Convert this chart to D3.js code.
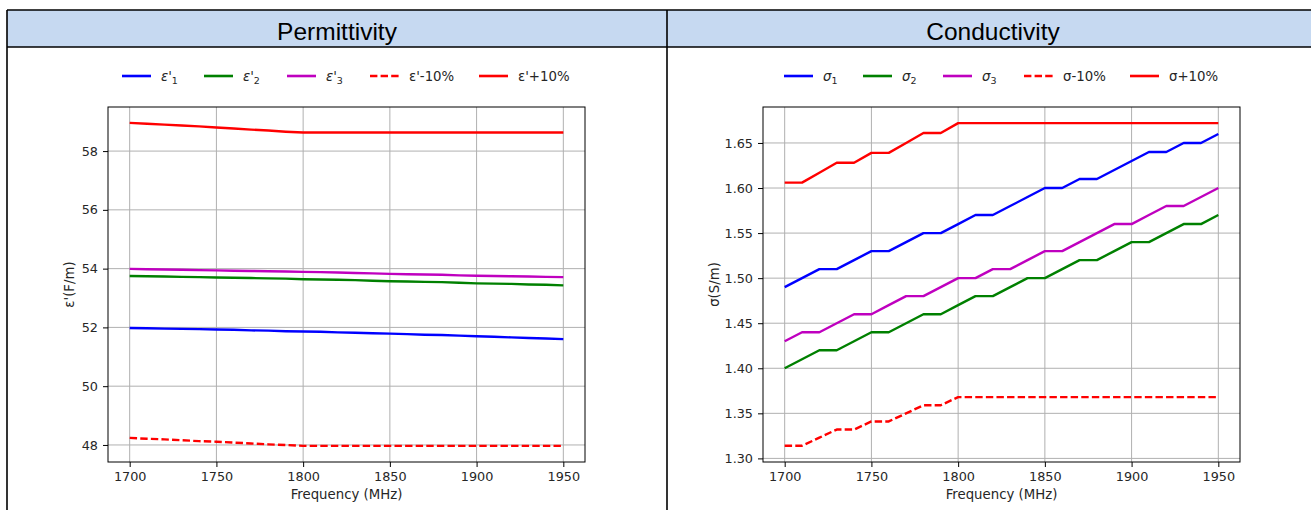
<!DOCTYPE html>
<html><head><meta charset="utf-8">
<script src="https://cdn.jsdelivr.net/npm/d3@7"></script>
<style>body{margin:0;background:#fff;}svg{display:block;}</style>
</head><body>
<svg id="c" width="1311" height="510"></svg>
<script>
const freqs = [1700,1710,1720,1730,1740,1750,1760,1770,1780,1790,1800,1810,1820,1830,1840,1850,1860,1870,1880,1890,1900,1910,1920,1930,1940,1950];
const xTicks = [1700,1750,1800,1850,1900,1950];

const eps1 = [51.98,51.97,51.96,51.95,51.94,51.93,51.92,51.90,51.89,51.87,51.86,51.85,51.83,51.82,51.80,51.79,51.77,51.75,51.74,51.72,51.70,51.68,51.66,51.64,51.62,51.60];
const eps2 = [53.75,53.74,53.73,53.72,53.71,53.70,53.69,53.68,53.67,53.66,53.64,53.63,53.62,53.61,53.59,53.57,53.56,53.55,53.54,53.52,53.50,53.49,53.48,53.46,53.45,53.43];
const eps3 = [53.99,53.98,53.97,53.96,53.95,53.94,53.93,53.92,53.91,53.90,53.89,53.88,53.87,53.85,53.84,53.82,53.81,53.80,53.79,53.77,53.76,53.75,53.74,53.73,53.72,53.71];
const epsLow = [48.24,48.21,48.19,48.16,48.13,48.11,48.08,48.05,48.02,48.00,47.97,47.97,47.97,47.97,47.97,47.97,47.97,47.97,47.97,47.97,47.97,47.97,47.97,47.97,47.97,47.97];
const epsHigh = [58.96,58.93,58.90,58.87,58.84,58.80,58.77,58.73,58.70,58.66,58.63,58.63,58.63,58.63,58.63,58.63,58.63,58.63,58.63,58.63,58.63,58.63,58.63,58.63,58.63,58.63];
const epsTicks = [48,50,52,54,56,58];

const sig1 = [1.49,1.50,1.51,1.51,1.52,1.53,1.53,1.54,1.55,1.55,1.56,1.57,1.57,1.58,1.59,1.60,1.60,1.61,1.61,1.62,1.63,1.64,1.64,1.65,1.65,1.66];
const sig2 = [1.40,1.41,1.42,1.42,1.43,1.44,1.44,1.45,1.46,1.46,1.47,1.48,1.48,1.49,1.50,1.50,1.51,1.52,1.52,1.53,1.54,1.54,1.55,1.56,1.56,1.57];
const sig3 = [1.43,1.44,1.44,1.45,1.46,1.46,1.47,1.48,1.48,1.49,1.50,1.50,1.51,1.51,1.52,1.53,1.53,1.54,1.55,1.56,1.56,1.57,1.58,1.58,1.59,1.60];
const sigLow = [1.314,1.314,1.323,1.332,1.332,1.341,1.341,1.350,1.359,1.359,1.368,1.368,1.368,1.368,1.368,1.368,1.368,1.368,1.368,1.368,1.368,1.368,1.368,1.368,1.368,1.368];
const sigHigh = [1.606,1.606,1.617,1.628,1.628,1.639,1.639,1.650,1.661,1.661,1.672,1.672,1.672,1.672,1.672,1.672,1.672,1.672,1.672,1.672,1.672,1.672,1.672,1.672,1.672,1.672];
const sigTicks = [1.30,1.35,1.40,1.45,1.50,1.55,1.60,1.65];

const titles = ["Permittivity","Conductivity"];
const colors = ["#0000ff","#008000","#bf00bf","#ff0000","#ff0000"];

const svg = d3.select("#c");
const FONT = "DejaVu Sans, sans-serif";
const TXT = "#262626";
const DASH = "7.4,3.2";

// table frame
svg.append("rect").attr("x",7).attr("y",10).attr("width",1310).attr("height",37).attr("fill","#c6d9f1");
const border = [[7,10,1320,10],[7,47,1320,47],[7,10,7,520],[667,10,667,520]];
svg.selectAll("line.b").data(border).join("line").attr("class","b")
  .attr("x1",d=>d[0]).attr("y1",d=>d[1]).attr("x2",d=>d[2]).attr("y2",d=>d[3])
  .attr("stroke","#000").attr("stroke-width",1.6);
svg.selectAll("text.h").data(titles).join("text").attr("class","h")
  .attr("x",(d,i)=>i===0?337:993).attr("y",39.5).attr("text-anchor","middle")
  .attr("font-family","Liberation Sans, Arial, sans-serif").attr("font-size",24.5).attr("fill","#000").text(d=>d);

function panel(cfg){
  const g = svg.append("g");
  const x = d3.scaleLinear().domain([1687.5,1962.5]).range([cfg.x0,cfg.x1]);
  const y = d3.scaleLinear().domain(cfg.ydom).range([462,107]);
  g.selectAll("line.gx").data(xTicks).join("line").attr("x1",d=>x(d)).attr("x2",d=>x(d)).attr("y1",107).attr("y2",462)
    .attr("stroke","#b0b0b0").attr("stroke-width",1);
  g.selectAll("line.gy").data(cfg.yticks).join("line").attr("y1",d=>y(d)).attr("y2",d=>y(d)).attr("x1",cfg.x0).attr("x2",cfg.x1)
    .attr("stroke","#b0b0b0").attr("stroke-width",1);
  const line = d3.line().x((d,i)=>x(freqs[i])).y(d=>y(d));
  cfg.series.forEach((s,k)=>{
    g.append("path").attr("d",line(s)).attr("fill","none").attr("stroke",colors[k]).attr("stroke-width",2.4)
      .attr("stroke-dasharray",k===3?DASH:null).attr("stroke-linejoin","round");
  });
  const xa = g.append("g").attr("transform","translate(0,462)").call(d3.axisBottom(x).tickValues(xTicks).tickSize(5).tickPadding(5).tickFormat(d3.format("d")));
  const ya = g.append("g").attr("transform",`translate(${cfg.x0},0)`).call(d3.axisLeft(y).tickValues(cfg.yticks).tickSize(5).tickPadding(5).tickFormat(cfg.fmt));
  [xa,ya].forEach(a=>{
    a.select(".domain").remove();
    a.selectAll("text").attr("font-family",FONT).attr("font-size",12.8).attr("fill",TXT);
    a.selectAll("line").attr("stroke","#000");
  });
  g.append("rect").attr("x",cfg.x0).attr("y",107).attr("width",cfg.x1-cfg.x0).attr("height",355)
    .attr("fill","none").attr("stroke","#000").attr("stroke-width",1);
  g.append("text").attr("x",(cfg.x0+cfg.x1)/2).attr("y",499).attr("text-anchor","middle")
    .attr("font-family",FONT).attr("font-size",13.3).attr("fill",TXT).text("Frequency (MHz)");
  g.append("text").attr("transform",`translate(${cfg.ylx},${(107+462)/2}) rotate(-90)`).attr("text-anchor","middle")
    .attr("font-family",FONT).attr("font-size",13.3).attr("fill",TXT).text(cfg.ylabel);
  const lg = g.selectAll("g.lg").data(cfg.legend).join("g").attr("class","lg")
    .attr("transform",(d,i)=>`translate(${cfg.legX[i]},76)`);
  lg.append("line").attr("x1",0).attr("x2",29).attr("y1",0).attr("y2",0)
    .attr("stroke",(d,i)=>colors[i]).attr("stroke-width",2.6).attr("stroke-dasharray",(d,i)=>i===3?DASH:null);
  lg.each(function(d){
    const t = d3.select(this).append("text").attr("x",39).attr("y",5)
      .attr("font-family",FONT).attr("font-size",13.3).attr("fill",TXT);
    t.append("tspan").attr("font-style",d.it?"italic":null).text(d.main);
    if(d.sub) t.append("tspan").attr("dy",3).attr("font-size",9.5).text(d.sub);
  });
}

panel({x0:108,x1:585,ydom:[47.42,59.5],yticks:epsTicks,fmt:d3.format("d"),
  series:[eps1,eps2,eps3,epsLow,epsHigh],ylabel:"ε'(F/m)",ylx:73.5,
  legX:[122,204,287,370,479],
  legend:[{main:"ε'",sub:"1",it:true},{main:"ε'",sub:"2",it:true},{main:"ε'",sub:"3",it:true},{main:"ε'-10%"},{main:"ε'+10%"}]});
panel({x0:763,x1:1240,ydom:[1.296,1.6899],yticks:sigTicks,fmt:d3.format(".2f"),
  series:[sig1,sig2,sig3,sigLow,sigHigh],ylabel:"σ(S/m)",ylx:718.5,
  legX:[784,863,943,1024,1130],
  legend:[{main:"σ",sub:"1",it:true},{main:"σ",sub:"2",it:true},{main:"σ",sub:"3",it:true},{main:"σ-10%"},{main:"σ+10%"}]});
</script>
</body></html>
